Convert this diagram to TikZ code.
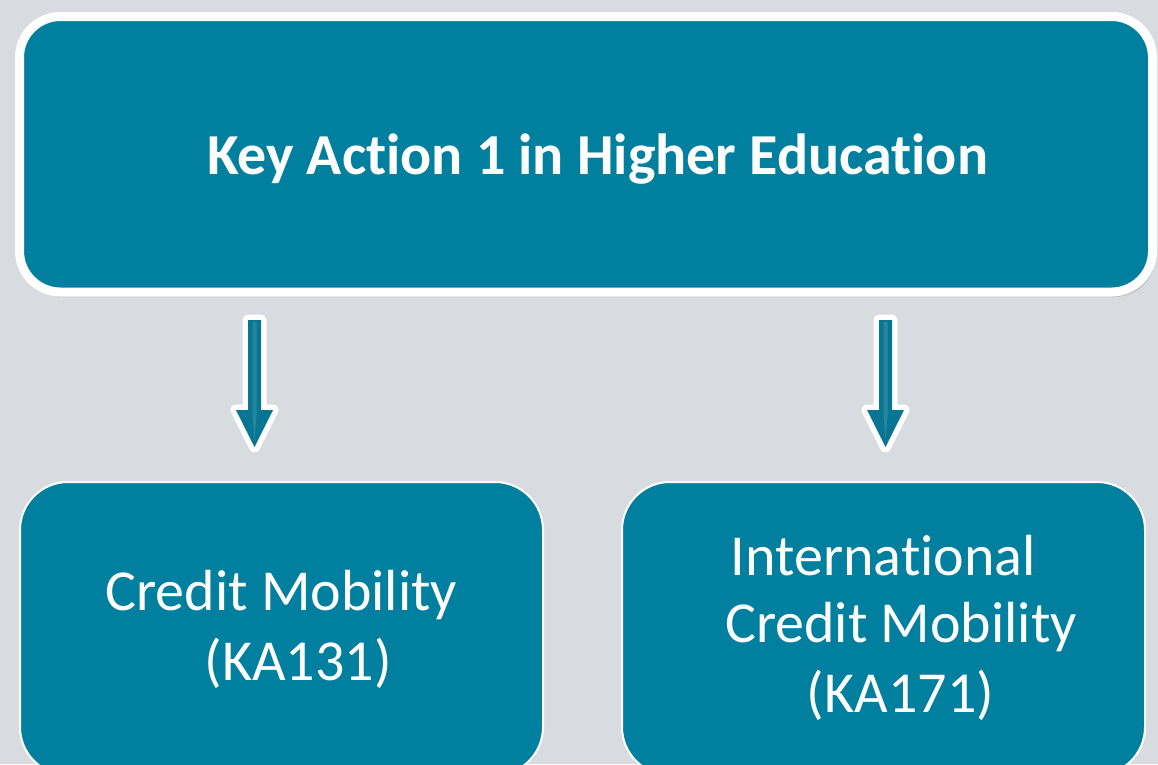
\documentclass[tikz,border=0pt]{standalone}
\usepackage{fontspec}
\setmainfont[Ligatures={NoCommon}]{Carlito}
\usetikzlibrary{shadows}
\definecolor{bgcol}{RGB}{216,219,223}
\definecolor{tealbox}{RGB}{0,127,159}
\definecolor{tealarrow}{RGB}{8,118,146}
\tikzset{
  topbox/.style={draw=white, line width=9pt, fill=tealbox, rounded corners=41pt,
    minimum width=1133pt, minimum height=275.5pt, inner sep=0pt, outer sep=0pt,
    drop shadow={shadow xshift=3pt, shadow yshift=-5pt, opacity=0.25, fill=black!60}},
  subbox/.style={draw=white, line width=2pt, fill=tealbox, rounded corners=48pt,
    minimum width=523pt, minimum height=293pt, inner sep=0pt, outer sep=0pt},
  bigtext/.style={text=white, font=\fontsize{58}{70}\selectfont, inner sep=0pt, anchor=base},
  arrowpic/.pic={
    \path[draw=white, line width=11pt, line join=round, fill=tealarrow,
      drop shadow={shadow xshift=3pt, shadow yshift=-4pt, opacity=0.25, fill=black!60}]
      (-6.5,0) -- (6.5,0) -- (6.5,90) -- (18.5,90) -- (0,127) -- (-18.5,90) -- (-6.5,90) -- cycle;
    \path[fill=tealarrow] (-6.5,0) -- (6.5,0) -- (6.5,90) -- (18.5,90) -- (0,127) -- (-18.5,90) -- (-6.5,90) -- cycle;
    \path[fill=white, opacity=0.12] (-2,2) -- (2,2) -- (2,95) -- (0,120) -- (-2,95) -- cycle;
  }
}
\begin{document}
\begin{tikzpicture}[x=1pt, y=-1pt]
\useasboundingbox (0,0) rectangle (1158,764);
\clip (0,0) rectangle (1158,764);
\fill[bgcol] (0,0) rectangle (1158,764);

\node[topbox] (top) at (586,154.25) {};
\node[bigtext, font=\fontsize{58}{70}\selectfont\bfseries] (title) at (597.5,174) {Key Action 1 in Higher Education};

\pic at (254.5,320) {arrowpic};
\pic at (885.5,320) {arrowpic};
\coordinate (arrowL) at (254.5,320);
\coordinate (arrowR) at (885.5,320);

\node[subbox] (left) at (281.5,628.5) {};
\node[subbox] (right) at (883.5,628.5) {};

\node[bigtext] (l1) at (281.5,610) {Credit Mobility};
\node[bigtext] (l2) at (298,680) {(KA131)};

\node[bigtext] (r1) at (883.5,575) {International};
\node[bigtext] (r2) at (901,642) {Credit Mobility};
\node[bigtext] (r3) at (900.5,712) {(KA171)};
\end{tikzpicture}
\end{document}
